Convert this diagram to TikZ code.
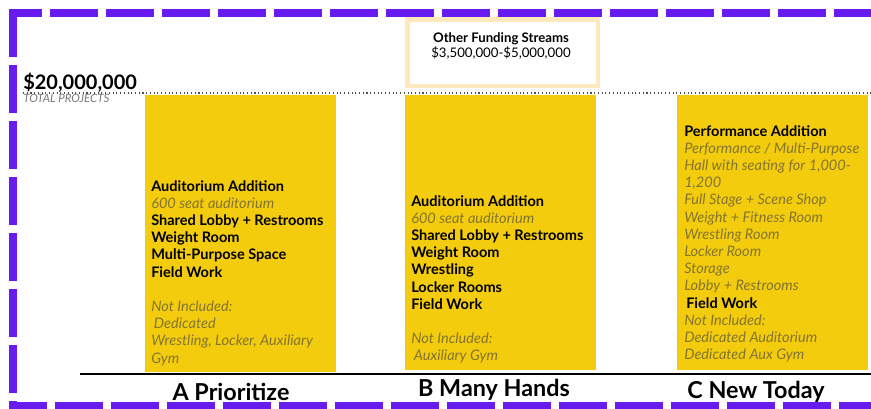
\documentclass[tikz,border=0pt]{standalone}
\usepackage{fontspec}
\setmainfont{Lato}
\usepackage{tikz}
\usetikzlibrary{positioning}
\definecolor{borderpurple}{RGB}{103,27,238}
\definecolor{barfill}{RGB}{243,204,13}
\definecolor{itemgray}{RGB}{132,116,48}
\definecolor{labelgray}{RGB}{120,120,120}
\definecolor{fundline}{RGB}{252,233,190}
\newcommand{\grayit}[1]{{\itshape\color{itemgray}#1}}

\begin{document}
\begin{tikzpicture}[x=0.75pt, y=-0.75pt, every node/.style={inner sep=0pt},
        dashline/.style={draw=borderpurple, line width=6pt, dash pattern=on 36pt off 6pt},
        bar/.style={rectangle, fill=barfill, minimum width=143pt, anchor=north west},
        items/.style={anchor=north west, align=left, font=\fontsize{10.9}{12.9}\selectfont},
        heading/.style={font=\fontsize{17.5}{20}\selectfont\bfseries}]
            \useasboundingbox (0, 0) rectangle (871, 408);
            \clip (0, 0) rectangle (871, 408);

            \draw[dashline, dash phase=11.25pt] (9, 13) -- (880, 13);
            \draw[dashline] (13, 9) -- (13, 420);
            \draw[dashline, dash phase=7.5pt] (9, 406) -- (880, 406);

            \node[anchor=base west, font=\fontsize{15}{18}\selectfont\bfseries] at (23, 89) (total) {\$20,000,000};
            \node[anchor=base west, font=\fontsize{8.6}{10}\selectfont\itshape, text=labelgray] at (23, 102) (totallbl) {TOTAL PROJECTS};
            \draw[dotted, line width=0.8pt, black!70] (23, 93) -- (871, 93);

            \node[draw=fundline, line width=3.5pt, minimum width=143pt, minimum height=50pt] at (502.5, 52.5) (funding) {};
            \node[align=center, font=\fontsize{9.9}{11.3}\selectfont] at (501, 46) (fundtext) {\textbf{Other Funding Streams}\\ \$3,500,000-\$5,000,000};

            \node[bar, minimum height=207.5pt] at (145, 95) (barA) {};
            \node[bar, minimum height=206pt] at (405, 95) (barB) {};
            \node[bar, minimum height=206pt] at (677, 95) (barC) {};

            \node[items] at (151, 180) (itemsA) {\textbf{Auditorium Addition}\\ \grayit{600 seat auditorium}\\ \textbf{Shared Lobby + Restrooms}\\ \textbf{Weight Room}\\ \textbf{Multi-Purpose Space}\\ \textbf{Field Work}\\[12.9pt] \grayit{Not Included:}\\ \grayit{\hspace{2pt}Dedicated}\\ \grayit{Wrestling, Locker, Auxiliary}\\ \grayit{Gym}};
            \node[items] at (411, 195) (itemsB) {\textbf{Auditorium Addition}\\ \grayit{600 seat auditorium}\\ \textbf{Shared Lobby + Restrooms}\\ \textbf{Weight Room}\\ \textbf{Wrestling}\\ \textbf{Locker Rooms}\\ \textbf{Field Work}\\[12.9pt] \grayit{Not Included:}\\ \grayit{\hspace{2pt}Auxiliary Gym}};
            \node[items] at (684, 125) (itemsC) {\textbf{Performance Addition}\\ \grayit{Performance / Multi-Purpose}\\ \grayit{Hall with seating for 1,000-}\\ \grayit{1,200}\\ \grayit{Full Stage + Scene Shop}\\ \grayit{Weight + Fitness Room}\\ \grayit{Wrestling Room}\\ \grayit{Locker Room}\\ \grayit{Storage}\\ \grayit{Lobby + Restrooms}\\ \textbf{\hspace{1.5pt}Field Work}\\ \grayit{Not Included:}\\ \grayit{Dedicated Auditorium}\\ \grayit{Dedicated Aux Gym}};

            \draw[line width=1.6pt] (80, 374) -- (871, 374);

            \node[heading] at (231, 392) (optA) {A Prioritize};
            \node[heading] at (494, 390) (optB) {B Many Hands};
            \node[heading] at (756, 392) (optC) {C New Today};
        \end{tikzpicture}
\end{document}
